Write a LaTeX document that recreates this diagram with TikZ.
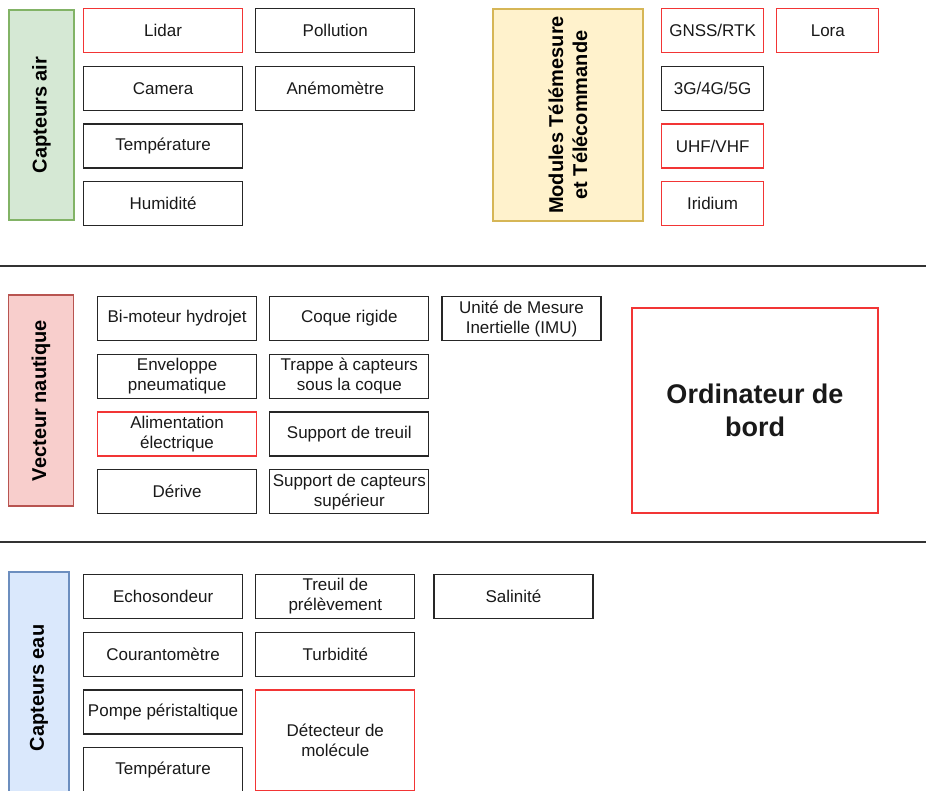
\documentclass[tikz,border=0pt]{standalone}
\usepackage{fontspec}
\setmainfont{Liberation Sans}
\usetikzlibrary{positioning}
\definecolor{airfill}{HTML}{D5E8D4}
\definecolor{airline}{HTML}{82B366}
\definecolor{telefill}{HTML}{FFF2CC}
\definecolor{teleline}{HTML}{D6B656}
\definecolor{nautfill}{HTML}{F8CECC}
\definecolor{nautline}{HTML}{B85450}
\definecolor{eaufill}{HTML}{DAE8FC}
\definecolor{eauline}{HTML}{6C8EBF}
\definecolor{rouge}{HTML}{F23535}
\tikzstyle{every bloc} = []
\tikzstyle{bloc} = [rectangle, draw=black!85, line width=1.2pt, text=black!90,
                    minimum width=159pt, minimum height=44pt, inner sep=1pt,
                    align=center, font=\fontsize{17}{20}\selectfont, every bloc]
\tikzstyle{bloc rouge} = [bloc, draw=rouge]
\tikzstyle{categorie} = [rectangle, rotate=90, line width=1.2pt, align=center,
                         font=\bfseries\fontsize{20}{24}\selectfont]
\tikzstyle{separation} = [line width=1.2pt, black!80]

\begin{document}
\begin{tikzpicture}[x=1pt, y=-1pt, node distance=12.5pt and 12pt]
  \path[use as bounding box, clip] (0,0) rectangle (926,791);

  %Capteurs air
  \node[categorie, fill=airfill, draw=airline, minimum width=210pt, minimum height=65pt] (air) at (41.5,115) {Capteurs air};
  \node[bloc rouge, anchor=north west] (lidar) at (83,8) {Lidar};
  \node[bloc, below=of lidar] (camera) {Camera};
  \node[bloc, below=of camera] (tempair) {Température};
  \node[bloc, below=of tempair] (humidite) {Humidité};
  \node[bloc, right=of lidar] (pollution) {Pollution};
  \node[bloc, below=of pollution] (anemo) {Anémomètre};

  %Telemesure
  \node[categorie, fill=telefill, draw=teleline, minimum width=212pt, minimum height=150pt] (tele) at (568,115) {Modules Télémesure \\ et Télécommande};
  \node[bloc rouge, minimum width=102pt, anchor=north west] (gnss) at (661,8) {GNSS/RTK};
  \node[bloc rouge, minimum width=102pt, right=of gnss] (lora) {Lora};
  \node[bloc, minimum width=102pt, below=of gnss] (cell) {3G/4G/5G};
  \node[bloc rouge, minimum width=102pt, below=of cell] (uhf) {UHF/VHF};
  \node[bloc rouge, minimum width=102pt, below=of uhf] (iridium) {Iridium};

  \draw[separation] (0,266) -- (926,266);

  %Vecteur nautique
  \node[categorie, fill=nautfill, draw=nautline, minimum width=211pt, minimum height=65pt] (vecteur) at (41,400.5) {Vecteur nautique};
  \node[bloc, anchor=north west] (moteur) at (97,296) {Bi-moteur hydrojet};
  \node[bloc, below=of moteur] (enveloppe) {Enveloppe \\ pneumatique};
  \node[bloc rouge, below=of enveloppe] (alim) {Alimentation \\ électrique};
  \node[bloc, below=of alim] (derive) {Dérive};
  \node[bloc, right=of moteur] (coque) {Coque rigide};
  \node[bloc, below=of coque] (trappe) {Trappe à capteurs \\ sous la coque};
  \node[bloc, below=of trappe] (treuil) {Support de treuil};
  \node[bloc, below=of treuil] (supcapt) {Support de capteurs \\ supérieur};
  \node[bloc, right=of coque] (imu) {Unité de Mesure \\ Inertielle (IMU)};
  \node[bloc rouge, minimum width=246pt, minimum height=205pt, font=\bfseries\fontsize{27}{33}\selectfont] (ordi) at (755,410.5) {Ordinateur de \\ bord};

  \draw[separation] (0,542) -- (926,542);

  %Capteurs eau
  \node[categorie, fill=eaufill, draw=eauline, minimum width=232pt, minimum height=60pt] (eau) at (39,688) {Capteurs eau};
  \node[bloc, anchor=north west] (echo) at (83,574) {Echosondeur};
  \node[bloc, below=of echo] (courant) {Courantomètre};
  \node[bloc, below=of courant] (pompe) {Pompe péristaltique};
  \node[bloc, below=of pompe] (tempeau) {Température};
  \node[bloc, right=of echo] (prelev) {Treuil de \\ prélèvement};
  \node[bloc, below=of prelev] (turbid) {Turbidité};
  \node[bloc rouge, minimum height=101pt, below=of turbid] (molecule) {Détecteur de \\ molécule};
  \node[bloc, right=18pt of prelev] (salin) {Salinité};
\end{tikzpicture}
\end{document}
